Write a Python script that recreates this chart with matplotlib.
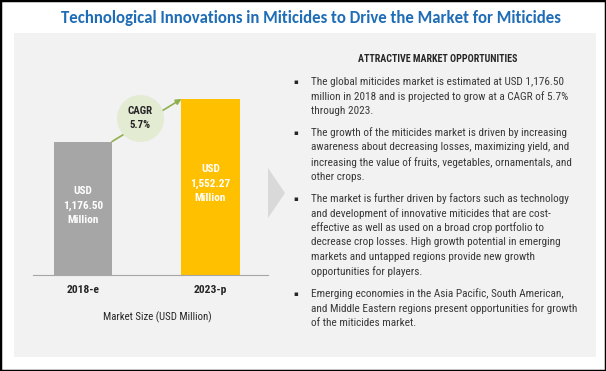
import matplotlib
matplotlib.use('Agg')
import matplotlib.pyplot as plt
from matplotlib.patches import Rectangle, Polygon

years = ['2018-e', '2023-p']
market_size = [1176.50, 1552.27]
cagr = '5.7%'

title = 'Technological Innovations in Miticides to Drive the Market for Miticides'
heading = 'ATTRACTIVE MARKET OPPORTUNITIES'
bullets = [
    ['The global miticides market is estimated at USD 1,176.50',
     'million in 2018 and is projected to grow at a CAGR of 5.7%',
     'through 2023.'],
    ['The growth of the miticides market is driven by increasing',
     'awareness about decreasing losses, maximizing yield, and',
     'increasing the value of fruits, vegetables, ornamentals, and',
     'other crops.'],
    ['The market is further driven by factors such as technology',
     'and development of innovative miticides that are cost-',
     'effective as well as used on a broad crop portfolio to',
     'decrease crop losses. High growth potential in emerging',
     'markets and untapped regions provide new growth',
     'opportunities for players.'],
    ['Emerging economies in the Asia Pacific, South American,',
     'and Middle Eastern regions present opportunities for growth',
     'of the miticides market.'],
]

narrow = ['Roboto Condensed', 'Archivo Narrow', 'PT Sans Narrow',
          'Liberation Sans Narrow', 'DejaVu Sans']
title_font = ['Carlito', 'Lato', 'DejaVu Sans']

W, H = 606, 371
fig = plt.figure(figsize=(W / 100, H / 100), dpi=100)
renderer = fig.canvas.get_renderer()


def fx(px):
    return px / W


def fy(py):
    return 1 - py / H


def fit(t, target):
    # scale a text's font size so it spans target pixels
    w = t.get_window_extent(renderer).width
    t.set_fontsize(t.get_fontsize() * target / w)
    return t.get_fontsize()


# outer border and gray panel
fig.patches.append(Rectangle((0, 0), 1, 1, transform=fig.transFigure,
                             facecolor='white', edgecolor='black', lw=2.5,
                             zorder=-20))
fig.patches.append(Rectangle((fx(14), fy(357)), fx(582), (357 - 33) / H,
                             transform=fig.transFigure, facecolor='#F2F2F2',
                             edgecolor='none', zorder=-10))

t = fig.text(fx(311), fy(18), title, ha='center', va='center', fontsize=10.5,
             fontweight='bold', color='#1F6DB6', family=title_font)
fit(t, 503)

# bar chart
ax = fig.add_axes([fx(33), fy(275), fx(235), (275 - 82.2) / H])
ax.patch.set_alpha(0)
xs = range(len(years))
ax.bar(xs, market_size, width=0.455, color=['#A6A6A6', '#FFC000'], zorder=2)
ax.set_xlim(-0.392, 1.451)
ax.set_ylim(0, 1700)
for s in ['top', 'right', 'left']:
    ax.spines[s].set_visible(False)
ax.spines['bottom'].set_color('#A6A6A6')
ax.set_yticks([])
ax.set_xticks(list(xs))
ax.set_xticklabels(years, fontweight='bold', color='#262626', family=narrow)
ax.tick_params(axis='x', length=0, pad=7)
lbl = ax.get_xticklabels()[0]
size = fit(lbl, 33)
for l in ax.get_xticklabels():
    l.set_fontsize(size)

probe = ax.text(0, 0, '1,176.50', fontweight='bold', family=narrow, fontsize=8)
bar_fs = fit(probe, 40)
probe.remove()
for i, v in enumerate(market_size):
    ax.text(i, v * 0.52, 'USD\n{:,.2f}\nMillion'.format(v), ha='center',
            va='center', color='white', fontsize=bar_fs, fontweight='bold',
            family=narrow, linespacing=1.5)

ax.annotate('', xy=(1 - 0.2275, market_size[1]), xytext=(0.2275, market_size[0]),
            arrowprops=dict(arrowstyle='-|>', color='#8FB04E', lw=1.2,
                            mutation_scale=8, shrinkA=0, shrinkB=0), zorder=3)
ax.scatter([0.447], [1384], s=1080, color='#E4EBD3', zorder=4, clip_on=False)
probe = ax.text(0, 0, 'CAGR', fontweight='bold', family=narrow, fontsize=8)
cagr_fs = fit(probe, 25)
probe.remove()
ax.text(0.447, 1384, 'CAGR\n' + cagr, ha='center', va='center',
        fontsize=cagr_fs, fontweight='bold', color='#262626', family=narrow,
        zorder=5, linespacing=1.5)

t = fig.text(fx(157), fy(317), 'Market Size (USD Million)', ha='center',
             va='center', fontsize=7.5, color='#262626', family=narrow)
fit(t, 108)

# chevron
fig.patches.append(Polygon([(fx(268), fy(168)), (fx(285), fy(193)),
                            (fx(268), fy(218))], closed=True,
                           transform=fig.transFigure, facecolor='#D9D9D9',
                           edgecolor='none', zorder=-5))

# right text
t = fig.text(fx(438), fy(59), heading, ha='center', va='center', fontsize=7.5,
             color='#262626', family=narrow, fontweight='bold')
fit(t, 159)

probe = fig.text(0, 0, bullets[0][0], fontsize=7.5, family=narrow)
body_fs = fit(probe, 255)
probe.remove()
y = 81.7
for para in bullets:
    fig.text(fx(296), fy(y), '\u25aa', ha='center', va='center', fontsize=5,
             color='#262626')
    for line in para:
        fig.text(fx(311), fy(y), line, ha='left', va='center',
                 fontsize=body_fs, color='#3A3A3A', family=narrow)
        y += 14.6
    y += 22 - 14.6

fig.savefig('out.png', dpi=100)
